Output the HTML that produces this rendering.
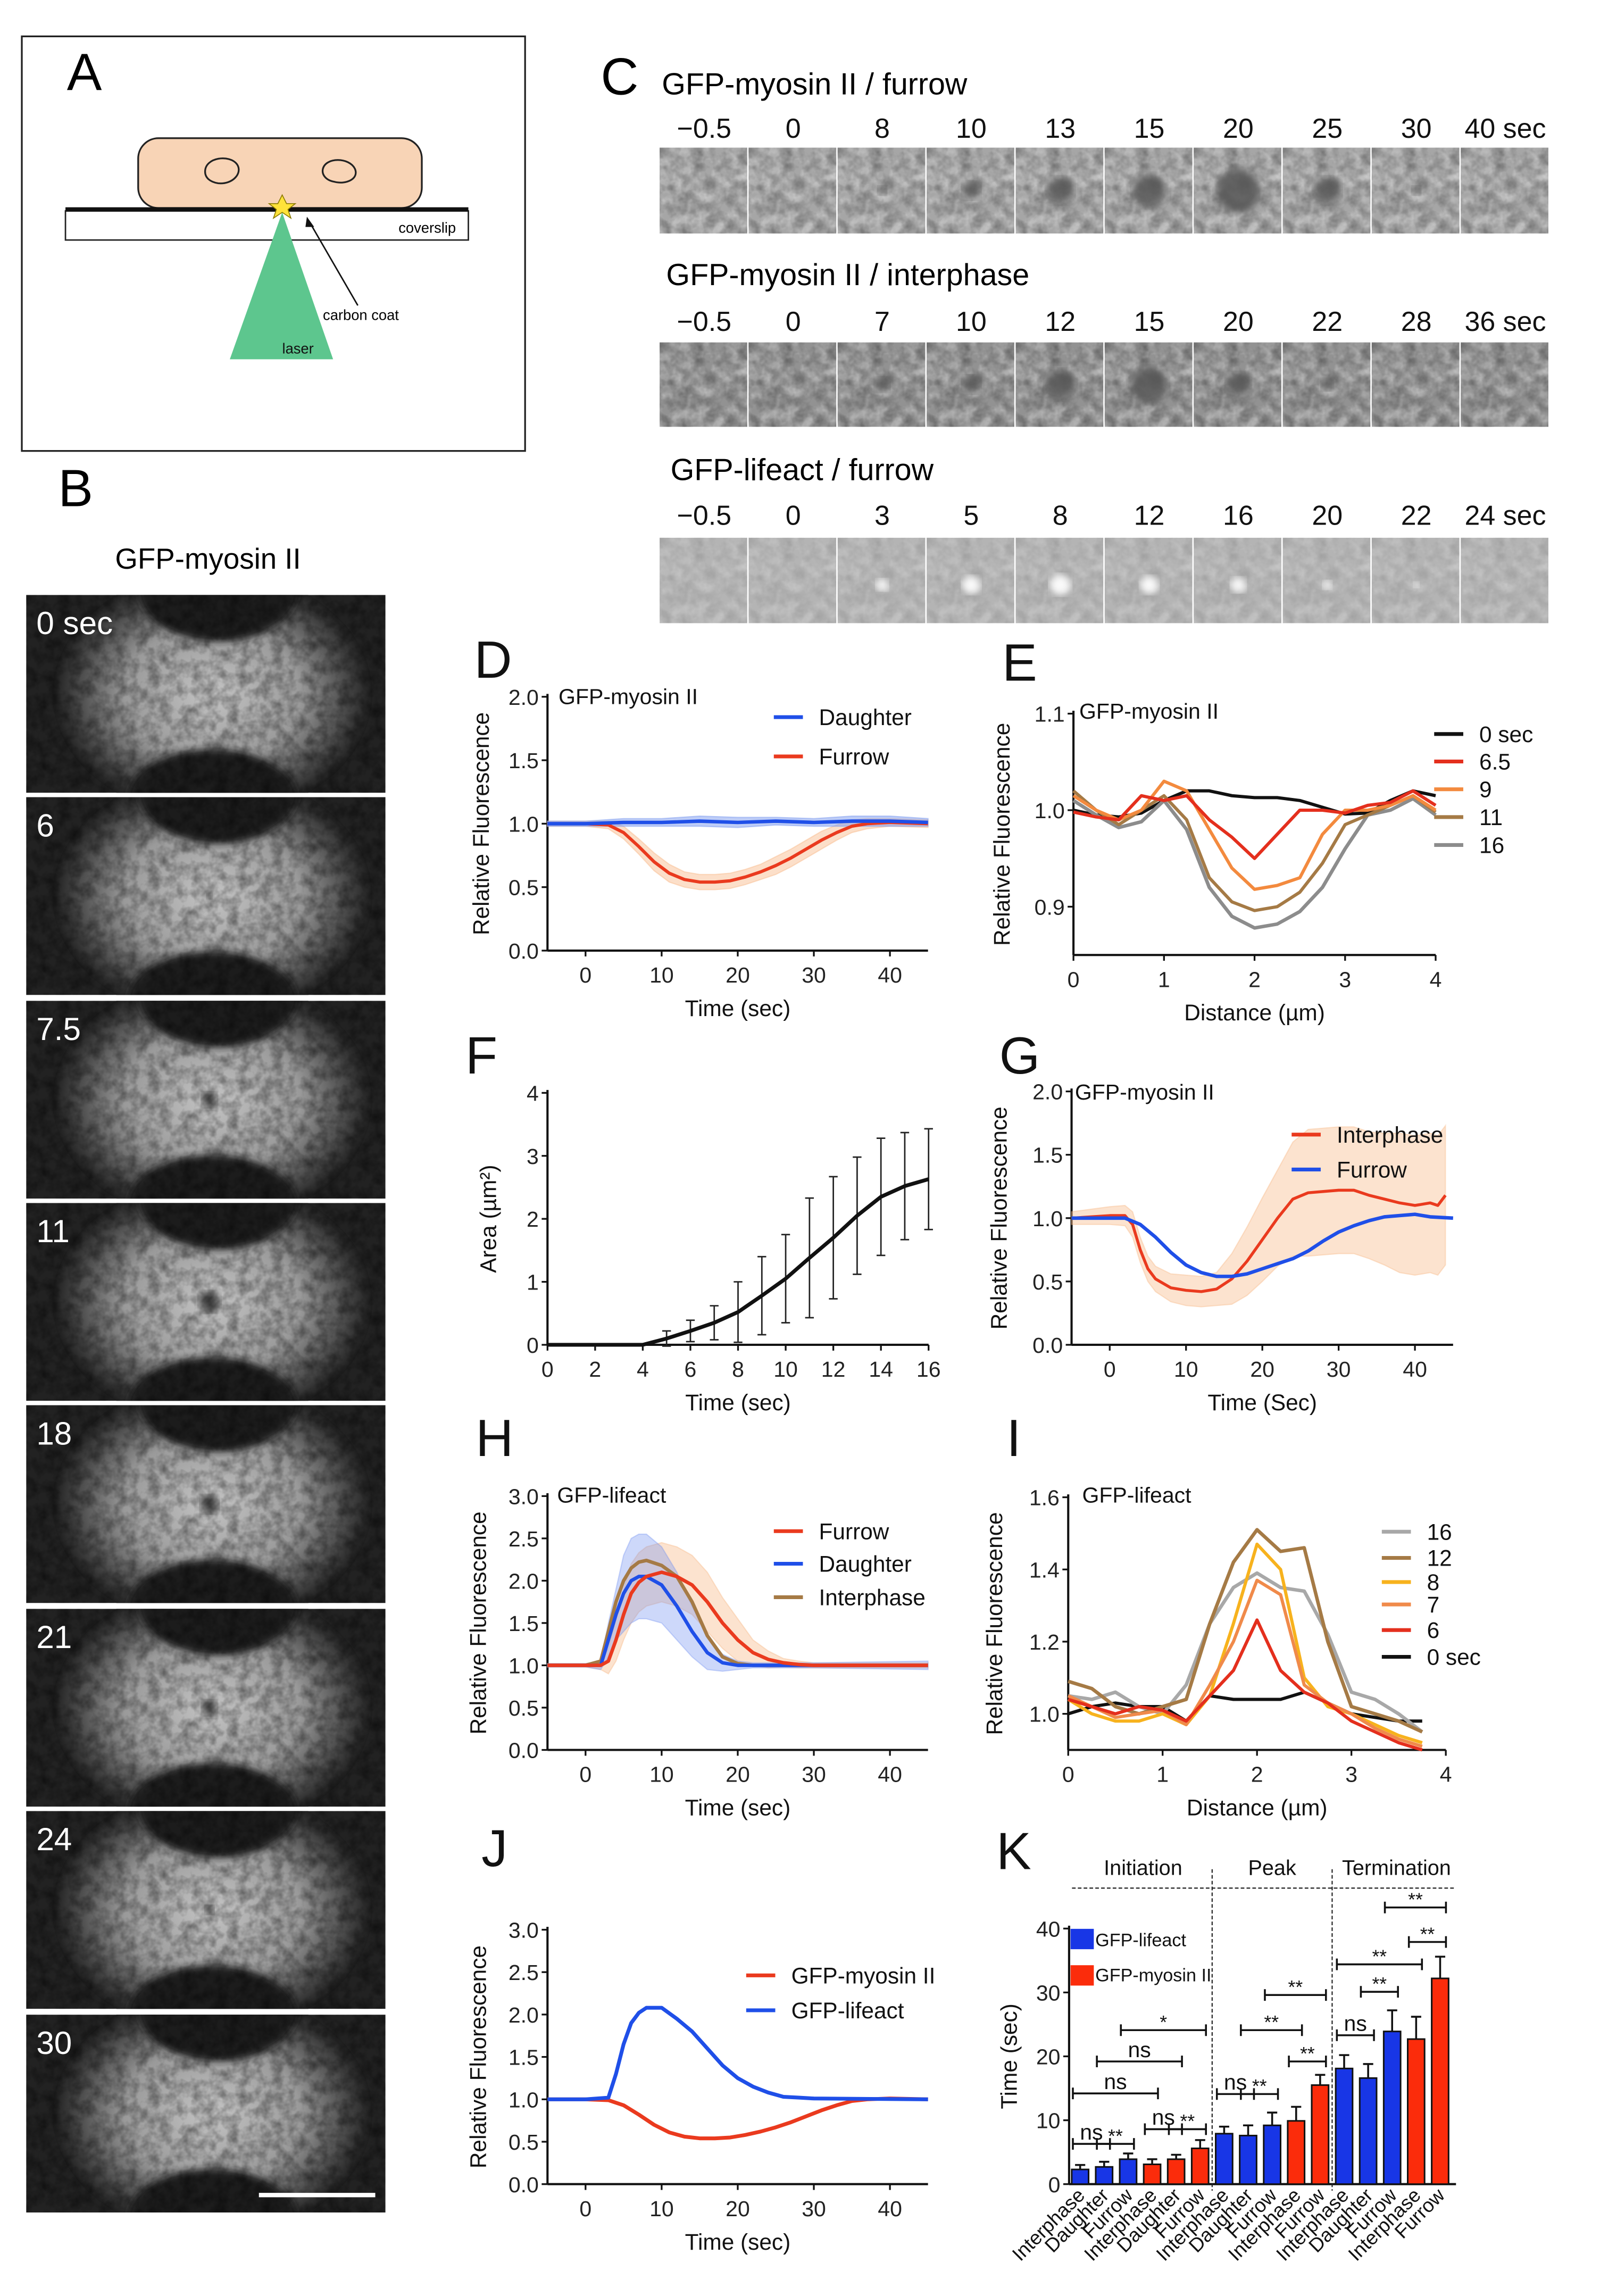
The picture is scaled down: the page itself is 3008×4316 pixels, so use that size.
<!DOCTYPE html>
<html><head><meta charset="utf-8"><title>Figure</title>
<style>
html,body{margin:0;padding:0;background:#fff;}
svg{display:block;font-family:"Liberation Sans",Arial,sans-serif;}
</style></head>
<body>
<svg id="fig" xmlns="http://www.w3.org/2000/svg" width="3008" height="4316" viewBox="0 0 1100 1578.4" preserveAspectRatio="none">
<defs>
<filter id="nzd" x="0" y="0" width="100%" height="100%"><feTurbulence type="fractalNoise" baseFrequency="0.13" numOctaves="3" seed="4"/><feColorMatrix type="matrix" values="0 0 0 0 0  0 0 0 0 0  0 0 0 0 0  1.6 0 0 0 -0.55"/></filter>
<filter id="nzl" x="0" y="0" width="100%" height="100%"><feTurbulence type="fractalNoise" baseFrequency="0.11" numOctaves="3" seed="9"/><feColorMatrix type="matrix" values="0 0 0 0 1  0 0 0 0 1  0 0 0 0 1  1.6 0 0 0 -0.6"/></filter>
<filter id="blur2"><feGaussianBlur stdDeviation="2.5"/></filter>
<filter id="blur6"><feGaussianBlur stdDeviation="6"/></filter>
<clipPath id="bclip" clipPathUnits="userSpaceOnUse"><rect x="0" y="0" width="247" height="136"/></clipPath>
<radialGradient id="bglow" cx="0.5" cy="0.5" r="0.5"><stop offset="0" stop-color="#c4c4c4"/><stop offset="0.55" stop-color="#9a9a9a"/><stop offset="1" stop-color="#1e1e1e"/></radialGradient>
</defs>

<g>
<rect x="15" y="25" width="346" height="285" fill="#fff" stroke="#222" stroke-width="1.2"/>
<text x="46" y="62" font-size="36">A</text>
<rect x="95" y="95" width="195" height="48" rx="14" fill="#f8d4b6" stroke="#222" stroke-width="1.2"/>
<path d="M141,118 C141,108 158,106 163,113 C167,119 160,127 150,126 C144,125 141,122 141,118Z" fill="none" stroke="#222" stroke-width="1.2"/>
<path d="M222,116 C224,108 240,108 244,116 C247,123 238,127 230,125 C224,124 221,120 222,116Z" fill="none" stroke="#222" stroke-width="1.2"/>
<rect x="45" y="145" width="277" height="20" fill="#fff" stroke="#222" stroke-width="1"/>
<line x1="45" y1="144" x2="322" y2="144" stroke="#111" stroke-width="3"/>
<text x="274" y="160" font-size="10">coverslip</text>
<polygon points="194,146 158,247 229,247" fill="#5dc68e"/>
<text x="194" y="243" font-size="10" fill="#111">laser</text>
<polygon points="194,134 197,140 203,140 198,144 200,150 194,146 188,150 190,144 185,140 191,140" fill="#ffe23a" stroke="#8a7a00" stroke-width="0.6"/>
<line x1="246" y1="210" x2="213" y2="153" stroke="#111" stroke-width="1"/>
<polygon points="211,149 216,156 210,156" fill="#111"/>
<text x="222" y="220" font-size="10">carbon coat</text>
</g>

<text x="40" y="348" font-size="36">B</text>
<g id="btiles"></g>
<text x="143" y="391" font-size="20" text-anchor="middle">GFP-myosin II</text>

<text x="413" y="65" font-size="36">C</text>
<text x="455" y="65" font-size="21">GFP-myosin II / furrow</text>
<text x="458" y="196" font-size="21">GFP-myosin II / interphase</text>
<text x="461" y="330" font-size="21">GFP-lifeact / furrow</text>
<g id="ctiles"></g>

<g id="charts"></g>
</svg>

<script>
const dT = [-5,0,3,5,7,9,11,13,15,17,19,21,23,25,27,29,31,33,35,37,40,45];
const dFurrow = [1.0,1.0,0.99,0.93,0.82,0.70,0.61,0.56,0.54,0.54,0.55,0.58,0.62,0.67,0.73,0.80,0.87,0.93,0.98,1.0,1.01,1.0];
const dFurrowErr = [0.02,0.02,0.03,0.05,0.06,0.07,0.07,0.06,0.06,0.06,0.06,0.06,0.06,0.07,0.07,0.07,0.07,0.06,0.05,0.04,0.03,0.03];
const dDaughterT = [-5,0,5,10,15,20,25,30,35,40,45];
const dDaughter = [1.0,1.0,1.01,1.01,1.02,1.01,1.02,1.01,1.02,1.02,1.01];
const dDaughterErr = [0.02,0.02,0.03,0.03,0.04,0.04,0.03,0.03,0.04,0.04,0.03];

const eX = [0,0.25,0.5,0.75,1,1.25,1.5,1.75,2,2.25,2.5,2.75,3,3.25,3.5,3.75,4];
const e0 = [1.0,0.995,0.993,0.997,1.01,1.02,1.02,1.015,1.013,1.013,1.01,1.003,0.996,0.997,1.01,1.02,1.015];
const e65 = [0.998,0.993,0.99,1.015,1.01,1.015,0.99,0.972,0.95,0.975,1.0,1.0,0.997,1.005,1.008,1.02,1.005];
const e9 = [1.015,1.0,0.99,1.0,1.03,1.02,0.98,0.94,0.918,0.922,0.93,0.975,1.0,1.0,1.005,1.015,1.0];
const e11 = [1.02,1.0,0.985,1.0,1.015,0.99,0.93,0.905,0.896,0.9,0.915,0.945,0.985,0.995,1.005,1.015,0.998];
const e16 = [1.01,0.995,0.982,0.988,1.01,0.98,0.92,0.89,0.878,0.882,0.895,0.92,0.96,0.995,1.0,1.012,0.995];

const fT = [0,1,2,3,4,5,6,7,8,9,10,11,12,13,14,15,16];
const fArea = [0,0,0,0,0,0.1,0.22,0.35,0.52,0.78,1.05,1.38,1.7,2.05,2.35,2.52,2.63];
const fErr = [0,0,0,0,0,0.12,0.17,0.27,0.48,0.62,0.7,0.95,0.97,0.93,0.93,0.85,0.8];

const gT = [-5,0,2,3,4,5,6,8,10,12,14,16,18,20,22,24,26,28,30,32,34,36,38,40,42,43,44];
const gInter = [1.0,1.02,1.02,0.95,0.75,0.6,0.52,0.45,0.43,0.42,0.44,0.52,0.66,0.83,1.0,1.15,1.2,1.21,1.22,1.22,1.18,1.15,1.12,1.1,1.12,1.1,1.18];
const gInterErr = [0.05,0.07,0.08,0.1,0.1,0.1,0.1,0.11,0.12,0.12,0.13,0.2,0.27,0.33,0.38,0.45,0.5,0.5,0.5,0.5,0.5,0.52,0.55,0.55,0.55,0.55,0.55];
const gFT = [-5,0,2,4,6,8,10,12,14,16,18,20,22,24,26,28,30,32,34,36,38,40,42,45];
const gFurrow = [1.0,1.0,1.0,0.95,0.85,0.73,0.63,0.57,0.54,0.54,0.56,0.6,0.64,0.68,0.74,0.82,0.89,0.94,0.98,1.01,1.02,1.03,1.01,1.0];

const hT = [-5,0,2,3,4,5,6,7,8,10,12,14,16,18,20,22,24,26,28,30,45];
const hFurrow = [1,1,1.0,1.05,1.3,1.6,1.85,1.98,2.05,2.1,2.05,1.95,1.75,1.5,1.3,1.15,1.07,1.03,1.01,1.0,1.0];
const hDaughter = [1,1,1.0,1.3,1.6,1.85,2.0,2.05,2.05,1.95,1.7,1.4,1.15,1.03,1.0,1.0,1.0,1.0,1.0,1.0,1.0];
const hInter = [1,1,1.05,1.4,1.75,2.0,2.15,2.22,2.24,2.18,2.05,1.75,1.35,1.1,1.02,1.0,1.0,1.0,1.0,1.0,1.0];
const hFurrowErr = [0.02,0.02,0.05,0.15,0.25,0.3,0.35,0.35,0.35,0.35,0.35,0.35,0.35,0.3,0.25,0.15,0.1,0.05,0.04,0.03,0.03];
const hDaughterErr = [0.02,0.02,0.05,0.2,0.3,0.45,0.5,0.5,0.5,0.45,0.4,0.3,0.2,0.1,0.05,0.03,0.03,0.03,0.03,0.03,0.05];

const iX = [0,0.25,0.5,0.75,1,1.25,1.5,1.75,2,2.25,2.5,2.75,3,3.25,3.5,3.75];
const i16 = [1.05,1.04,1.06,1.02,1.0,1.08,1.25,1.35,1.39,1.35,1.34,1.22,1.06,1.04,1.0,0.95];
const i12 = [1.09,1.07,1.02,1.0,1.02,1.04,1.25,1.42,1.51,1.45,1.46,1.2,1.02,1.0,0.98,0.95];
const i8 = [1.04,1.0,0.98,0.98,1.0,0.97,1.05,1.25,1.47,1.4,1.1,1.02,1.0,0.97,0.94,0.92];
const i7 = [1.05,1.02,0.99,1.0,1.01,0.97,1.08,1.2,1.37,1.33,1.08,1.03,1.0,0.96,0.93,0.91];
const i6 = [1.04,1.02,1.0,1.02,1.01,0.98,1.05,1.12,1.26,1.12,1.06,1.03,0.98,0.95,0.92,0.9];
const i0 = [1.0,1.02,1.03,1.02,1.02,0.98,1.05,1.04,1.04,1.04,1.06,1.03,1.0,0.99,0.98,0.98];

const jT = [-5,0,3,4,5,6,7,8,10,12,14,16,18,20,22,24,26,28,30,45];
const jLifeact = [1,1,1.02,1.3,1.65,1.9,2.02,2.08,2.08,1.95,1.8,1.6,1.4,1.25,1.15,1.08,1.03,1.02,1.01,1.0];

const kCats = ['Interphase','Daughter','Furrow','Interphase','Daughter','Furrow','Interphase','Daughter','Furrow','Interphase','Furrow','Interphase','Daughter','Furrow','Interphase','Furrow'];
const kProbe = ['lifeact','lifeact','lifeact','myosin','myosin','myosin','lifeact','lifeact','lifeact','myosin','myosin','lifeact','lifeact','lifeact','myosin','myosin'];
const kVals = [2.3,2.7,3.9,3.1,3.9,5.6,7.9,7.6,9.2,9.9,15.5,18.1,16.6,23.9,22.7,32.2];
const kErrs = [0.7,0.8,0.9,0.8,0.7,1.3,1.1,1.6,2.0,2.2,1.6,2.1,2.2,3.3,3.5,3.4];
const kYTicks = [0,10,20,30,40];
const kBrackets = [[0,1,6.3,'ns'],[1,2,6.3,'**'],[0,3,14.2,'ns'],[1,4,19.2,'ns'],[2,5,24.1,'*'],[3,4,8.6,'ns'],[4,5,8.6,'**'],
  [6,7,14.1,'ns'],[7,8,14.1,'**'],[7,9,24.1,'**'],[8,10,29.6,'**'],[9,10,19.2,'**'],
  [11,12,23.3,'ns'],[12,13,30.1,'**'],[11,14,34.4,'**'],[14,15,37.9,'**'],[13,15,43.3,'**']];

const bLabels = ['0 sec','6','7.5','11','18','21','24','30'];
const bDot = [0,2,5,7,6,5,3,0];
const c1Labels = ['\u22120.5','0','8','10','13','15','20','25','30','40 sec'];
const c2Labels = ['\u22120.5','0','7','10','12','15','20','22','28','36 sec'];
const c3Labels = ['\u22120.5','0','3','5','8','12','16','20','22','24 sec'];
const c1Dark = [0,0,3,6,9,11,15,9,3,0];
const c2Dark = [0,0,5,6,10,12,8,4,0,0];
const c3Bright = [0,0,4,6,7,6,5,3,2,1];

const NS = 'http://www.w3.org/2000/svg';
function mk(tag, attrs, parent){ const e=document.createElementNS(NS,tag); for(const k in attrs) e.setAttribute(k,attrs[k]); parent.appendChild(e); return e; }
function txt(parent,x,y,s,size,anchor,extra){ const e=mk('text',Object.assign({x:x,y:y,'font-size':size,'text-anchor':anchor||'start',fill:'#111'},extra||{}),parent); e.textContent=s; return e; }
function scale(d0,d1,r0,r1){ return v=> r0+(v-d0)*(r1-r0)/(d1-d0); }
const charts = document.getElementById('charts');

function axes(g,c){
  const sx=scale(c.xmin,c.xmax,c.x0,c.x1), sy=scale(c.ymin,c.ymax,c.yb,c.yt);
  const ya=mk('line',{x1:c.x0,y1:c.yb,x2:c.x0,y2:c.yt-2,stroke:'#111','stroke-width':1.5},g);
  
  
  const xa=mk('line',{x1:c.x0,y1:c.yb,x2:c.x1,y2:c.yb,stroke:'#111','stroke-width':1.5},g);
  
  
  (c.yticks||[]).forEach(v=>{
    mk('line',{x1:c.x0-4,y1:sy(v),x2:c.x0,y2:sy(v),stroke:'#111','stroke-width':1.2},g);
    const t=txt(g,c.x0-6,sy(v)+5.5,c.yfmt?c.yfmt(v):String(v),15,'end',{fill:'#222'});
    
    
  });
  (c.xticks||[]).forEach(v=>{
    mk('line',{x1:sx(v),y1:c.yb,x2:sx(v),y2:c.yb+4,stroke:'#111','stroke-width':1.2},g);
    const t=txt(g,sx(v),c.yb+22,String(v),15,'middle',{fill:'#222'});
    
    
  });
  if(c.xtitle){ const t=txt(g,(c.x0+c.x1)/2,c.yb+45,c.xtitle,15.5,'middle');
    
     }
  if(c.ytitle){ const cy=(c.yb+c.yt)/2; const t=txt(g,c.ytx,cy,c.ytitle,15.5,'middle',{transform:'rotate(-90 '+c.ytx+' '+cy+')'});
    
     }
  return {sx,sy};
}
function series(g,xs,ys,s,color,w,name){
  const p=mk('polyline',{points:xs.map((x,i)=>s.sx(x).toFixed(2)+','+s.sy(ys[i]).toFixed(2)).join(' '),fill:'none',stroke:color,'stroke-width':w,'stroke-linejoin':'round'},g);
  
  
  return p;
}
function band(g,xs,ys,es,s,color,op,name){
  const up=xs.map((x,i)=>s.sx(x).toFixed(2)+','+s.sy(ys[i]+es[i]).toFixed(2));
  const lo=xs.map((x,i)=>s.sx(x).toFixed(2)+','+s.sy(ys[i]-es[i]).toFixed(2)).reverse();
  const p=mk('polygon',{points:up.concat(lo).join(' '),fill:color,'fill-opacity':op,stroke:color,'stroke-opacity':op,'stroke-width':0.8},g);
  
  
}
function legend(g,x,y,color,label,name,lw){
  const l=mk('line',{x1:x,y1:y,x2:x+20,y2:y,stroke:color,'stroke-width':lw||2.6},g);
  
  
  const t=txt(g,x+31,y+5.5,label,15.5,'start');
  
  
}
function letter(g,x,y,s){ const t=txt(g,x,y,s,36,'middle');   }
function subtitle(g,x,y,s,name){ const t=txt(g,x,y,s,15,'start');   }
const RED='#ea3a1e', BLUE='#1f4fe8', ORANGE_BAND='#f8b987';

(function(){
  const g=mk('g',{},charts);  
  letter(g,339,466,'D');
  const s=axes(g,{name:'d',x0:376.4,x1:638,yb:653.5,yt:479,xmin:-5,xmax:45,ymin:0,ymax:2,xticks:[0,10,20,30,40],yticks:[0,0.5,1,1.5,2],yfmt:v=>v.toFixed(1),xtitle:'Time (sec)',ytitle:'Relative Fluorescence',ytx:336});
  band(g,dT,dFurrow,dFurrowErr,s,ORANGE_BAND,0.45,'d-furrow-error-band');
  band(g,dDaughterT,dDaughter,dDaughterErr,s,'#7e9cf0',0.5,'d-daughter-error-band');
  series(g,dT,dFurrow,s,RED,2.2,'d-furrow-line');
  series(g,dDaughterT,dDaughter,s,BLUE,2.4,'d-daughter-line');
  subtitle(g,384,484,'GFP-myosin II','d-chart-title');
  legend(g,532,493,BLUE,'Daughter','d-legend-daughter');
  legend(g,532,520,RED,'Furrow','d-legend-furrow');
})();

(function(){
  const g=mk('g',{},charts);  
  letter(g,701,468,'E');
  const s=axes(g,{name:'e',x0:738,x1:987,yb:656.5,yt:490.6,xmin:0,xmax:4,ymin:0.85,ymax:1.1,xticks:[0,1,2,3,4],yticks:[0.9,1.0,1.1],yfmt:v=>v.toFixed(1),xtitle:'Distance (\u00b5m)',ytitle:'Relative Fluorescence',ytx:694});
  series(g,eX,e0,s,'#111',2.2,'e-line-0sec');
  series(g,eX,e16,s,'#8c8c8c',2.4,'e-line-16');
  series(g,eX,e11,s,'#a57a45',2.2,'e-line-11');
  series(g,eX,e9,s,'#f38a3e',2.2,'e-line-9');
  series(g,eX,e65,s,'#e42f1d',2.2,'e-line-6-5');
  subtitle(g,742,494,'GFP-myosin II','e-chart-title');
  legend(g,986,504.6,'#111','0 sec','e-legend-0sec');
  legend(g,986,523.5,'#e42f1d','6.5','e-legend-6-5');
  legend(g,986,542.6,'#f38a3e','9','e-legend-9');
  legend(g,986,561.7,'#a57a45','11','e-legend-11');
  legend(g,986,580.9,'#8c8c8c','16','e-legend-16');
})();

(function(){
  const g=mk('g',{},charts);  
  letter(g,331,738,'F');
  const s=axes(g,{name:'f',x0:376.4,x1:638.4,yb:924.5,yt:751.3,xmin:0,xmax:16,ymin:0,ymax:4,xticks:[0,2,4,6,8,10,12,14,16],yticks:[0,1,2,3,4],xtitle:'Time (sec)',ytitle:'Area (\u00b5m\u00b2)',ytx:341});
  fT.forEach((t,i)=>{ if(fErr[i]<=0) return;
    const x=s.sx(t);
    const eb=mk('line',{x1:x,y1:s.sy(fArea[i]-fErr[i]),x2:x,y2:s.sy(fArea[i]+fErr[i]),stroke:'#222','stroke-width':1},g);
    
    
    mk('line',{x1:x-3,y1:s.sy(fArea[i]+fErr[i]),x2:x+3,y2:s.sy(fArea[i]+fErr[i]),stroke:'#222','stroke-width':1},g);
    mk('line',{x1:x-3,y1:s.sy(fArea[i]-fErr[i]),x2:x+3,y2:s.sy(fArea[i]-fErr[i]),stroke:'#222','stroke-width':1},g);
  });
  series(g,fT,fArea,s,'#111',2.6,'f-area-line');
})();

(function(){
  const g=mk('g',{},charts);  
  letter(g,701,738,'G');
  const s=axes(g,{name:'g',x0:736.7,x1:999,yb:924.5,yt:750.3,xmin:-5,xmax:45,ymin:0,ymax:2,xticks:[0,10,20,30,40],yticks:[0,0.5,1,1.5,2],yfmt:v=>v.toFixed(1),xtitle:'Time (Sec)',ytitle:'Relative Fluorescence',ytx:692});
  band(g,gT,gInter,gInterErr,s,ORANGE_BAND,0.4,'g-interphase-error-band');
  series(g,gT,gInter,s,RED,2.0,'g-interphase-line');
  series(g,gFT,gFurrow,s,BLUE,2.4,'g-furrow-line');
  subtitle(g,739,756,'GFP-myosin II','g-chart-title');
  legend(g,888,780,RED,'Interphase','g-legend-interphase');
  legend(g,888,804,BLUE,'Furrow','g-legend-furrow');
})();

(function(){
  const g=mk('g',{},charts);  
  letter(g,340,1001,'H');
  const s=axes(g,{name:'h',x0:376.4,x1:638,yb:1203,yt:1028.5,xmin:-5,xmax:45,ymin:0,ymax:3,xticks:[0,10,20,30,40],yticks:[0,0.5,1,1.5,2,2.5,3],yfmt:v=>v.toFixed(1),xtitle:'Time (sec)',ytitle:'Relative Fluorescence',ytx:334});
  band(g,hT,hFurrow,hFurrowErr,s,ORANGE_BAND,0.4,'h-furrow-error-band');
  band(g,hT,hDaughter,hDaughterErr,s,'#6f8ff0',0.35,'h-daughter-error-band');
  series(g,hT,hInter,s,'#a57a45',2.4,'h-interphase-line');
  series(g,hT,hDaughter,s,BLUE,2.4,'h-daughter-line');
  series(g,hT,hFurrow,s,RED,2.4,'h-furrow-line');
  subtitle(g,383,1033,'GFP-lifeact','h-chart-title');
  legend(g,532,1052.6,RED,'Furrow','h-legend-furrow');
  legend(g,532,1075,BLUE,'Daughter','h-legend-daughter');
  legend(g,532,1098,'#a57a45','Interphase','h-legend-interphase');
})();

(function(){
  const g=mk('g',{},charts);  
  letter(g,697,1001,'I');
  const s=axes(g,{name:'i',x0:734.4,x1:994,yb:1203,yt:1029.3,xmin:0,xmax:4,ymin:0.9,ymax:1.6,xticks:[0,1,2,3,4],yticks:[1.0,1.2,1.4,1.6],yfmt:v=>v.toFixed(1),xtitle:'Distance (\u00b5m)',ytitle:'Relative Fluorescence',ytx:689});
  series(g,iX,i0,s,'#111',2.2,'i-line-0sec');
  series(g,iX,i16,s,'#a8a8a8',2.4,'i-line-16');
  series(g,iX,i12,s,'#a57a45',2.4,'i-line-12');
  series(g,iX,i8,s,'#f7b21d',2.2,'i-line-8');
  series(g,iX,i7,s,'#f08a4a',2.2,'i-line-7');
  series(g,iX,i6,s,'#e42f1d',2.2,'i-line-6');
  subtitle(g,744,1033,'GFP-lifeact','i-chart-title');
  legend(g,950,1053,'#a8a8a8','16','i-legend-16');
  legend(g,950,1071,'#a57a45','12','i-legend-12');
  legend(g,950,1087.6,'#f7b21d','8','i-legend-8');
  legend(g,950,1103,'#f08a4a','7','i-legend-7');
  legend(g,950,1120.6,'#e42f1d','6','i-legend-6');
  legend(g,950,1139,'#111','0 sec','i-legend-0sec');
})();

(function(){
  const g=mk('g',{},charts);  
  letter(g,340,1283,'J');
  const s=axes(g,{name:'j',x0:376.4,x1:638,yb:1501.5,yt:1326.6,xmin:-5,xmax:45,ymin:0,ymax:3,xticks:[0,10,20,30,40],yticks:[0,0.5,1,1.5,2,2.5,3],yfmt:v=>v.toFixed(1),xtitle:'Time (sec)',ytitle:'Relative Fluorescence',ytx:334});
  series(g,dT,dFurrow,s,RED,2.6,'j-myosin-line');
  series(g,jT,jLifeact,s,BLUE,2.6,'j-lifeact-line');
  legend(g,513,1358,RED,'GFP-myosin II','j-legend-myosin');
  legend(g,513,1382,BLUE,'GFP-lifeact','j-legend-lifeact');
})();

(function(){
  const g=mk('g',{},charts);  
  letter(g,697,1285,'K');
  const x0=735, step=16.5, first=742.6, bw=11.6;
  const bx=i=> first+step*i;
  const s=axes(g,{name:'k',x0:x0,x1:1001,yb:1501.5,yt:1325.8,xmin:0,xmax:1,ymin:0,ymax:40,xticks:[],yticks:kYTicks,ytitle:'Time (sec)',ytx:699});
  [[5,6],[10,11]].forEach(p=>{ const x=(bx(p[0])+bx(p[1]))/2;
    const l=mk('line',{x1:x,y1:1285,x2:x,y2:1506,stroke:'#222','stroke-width':0.8,'stroke-dasharray':'2.5,1.5'},g);
    
     });
  const hl=mk('line',{x1:737,y1:1298,x2:1000,y2:1298,stroke:'#222','stroke-width':0.8,'stroke-dasharray':'2.5,1.5'},g);
  
  
  [['Initiation',(bx(0)+bx(5))/2+2],['Peak',(bx(6)+bx(10))/2],['Termination',(bx(11)+bx(15))/2+3]].forEach(p=>{
    const t=txt(g,p[1],1289,p[0],14.5,'middle');   });
  kVals.forEach((v,i)=>{
    const col=kProbe[i]==='lifeact'?'#1836e6':'#fb2c0b';
    const top=s.sy(v+kErrs[i]);
    const eb=mk('line',{x1:bx(i),y1:s.sy(v),x2:bx(i),y2:top,stroke:'#111','stroke-width':1.3},g);
    
    
    mk('line',{x1:bx(i)-3.5,y1:top,x2:bx(i)+3.5,y2:top,stroke:'#111','stroke-width':1.3},g);
    const r=mk('rect',{x:bx(i)-bw/2,y:s.sy(v),width:bw,height:s.sy(0)-s.sy(v),fill:col,stroke:'#111','stroke-width':1.1},g);
    
    
    const t=txt(g,bx(i)+4,1510,kCats[i],13.5,'end',{transform:'rotate(-45 '+(bx(i)+4)+' 1510)'});
    
    
  });
  kBrackets.forEach(b=>{
    const y=s.sy(b[2]), xa=bx(b[0])-5, xb=bx(b[1])+4;
    const l=mk('path',{d:'M'+xa+','+(y-4)+' V'+(y+4)+' M'+xa+','+y+' H'+xb+' M'+xb+','+(y-4)+' V'+(y+4),stroke:'#111','stroke-width':1.3,fill:'none'},g);
    
    
    const t=txt(g,(xa+xb)/2,y-(b[3]==='ns'?3:1),b[3],b[3]==='ns'?15:13,'middle');
    
    
  });
  const l1=mk('rect',{x:736,y:1326,width:16,height:14,fill:'#1836e6'},g);
  
  
  const t1=txt(g,753,1338,'GFP-lifeact',12.5,'start');  
  const l2=mk('rect',{x:736,y:1351,width:16,height:14,fill:'#fb2c0b'},g);
  
  
  const t2=txt(g,753,1362,'GFP-myosin II',12.5,'start');  
})();

(function(){
  const root=document.getElementById('btiles');
  const tops=[409,548,688,827,966,1106,1245,1385];
  tops.forEach((top,i)=>{
    const g=mk('g',{transform:'translate(18,'+top+')'},root);
    
    
    const inner=mk('g',{'clip-path':'url(#bclip)'},g);
    mk('rect',{x:0,y:0,width:247,height:136,fill:'#222'},inner);
    mk('ellipse',{cx:128,cy:68,rx:110,ry:85,fill:'url(#bglow)'},inner);
    mk('ellipse',{cx:132,cy:-4,rx:55,ry:36,fill:'#1e1e1e',filter:'url(#blur2)'},inner);
    mk('ellipse',{cx:128,cy:140,rx:58,ry:34,fill:'#1e1e1e',filter:'url(#blur2)'},inner);
    if(bDot[i]>0) mk('circle',{cx:126,cy:68,r:bDot[i],fill:'#505050',filter:'url(#blur2)'},inner);
    mk('rect',{x:0,y:0,width:247,height:136,fill:'#000',filter:'url(#nzd)',opacity:0.5},inner);
    const t=txt(g,7,27,bLabels[i],22,'start',{fill:'#fff'});
    
    
  });
  const sb=mk('line',{x1:178,y1:1509,x2:258,y2:1509,stroke:'#fff','stroke-width':3},root);
  
  
})();

(function(){
  const root=document.getElementById('ctiles');
  const rows=[
    {y:101.5,h:59,ly:94.8,labels:c1Labels,base:'#a6a6a6',dark:c1Dark,bright:null,name:'c-row1'},
    {y:235.4,h:58,ly:227.4,labels:c2Labels,base:'#929292',dark:c2Dark,bright:null,name:'c-row2'},
    {y:369.7,h:58.7,ly:360.8,labels:c3Labels,base:'#b4b4b4',dark:null,bright:c3Bright,name:'c-row3'}];
  const x0=453.5, tw=61.2;
  rows.forEach(r=>{
    for(let i=0;i<10;i++){
      const g=mk('g',{transform:'translate('+(x0+tw*i)+','+r.y+')'},root);
      
      
      mk('rect',{x:0,y:0,width:tw-1,height:r.h,fill:r.base},g);
      mk('rect',{x:0,y:0,width:tw-1,height:r.h,fill:'#fff',filter:'url(#nzl)',opacity:r.bright?0.3:0.5},g);
      mk('rect',{x:0,y:0,width:tw-1,height:r.h,fill:'#000',filter:'url(#nzd)',opacity:r.bright?0.12:0.35},g);
      if(r.dark && r.dark[i]>0) mk('circle',{cx:tw/2,cy:r.h/2,r:r.dark[i],fill:'#555',opacity:0.85,filter:'url(#blur2)'},g);
      if(r.bright && r.bright[i]>0) mk('circle',{cx:tw/2,cy:r.h/2+3,r:r.bright[i],fill:'#fafafa',filter:'url(#blur2)'},g);
      const t=txt(root,x0+tw*i+tw/2,r.ly,r.labels[i],19,'middle');
      
      
    }
  });
})();
</script>
</body></html>
